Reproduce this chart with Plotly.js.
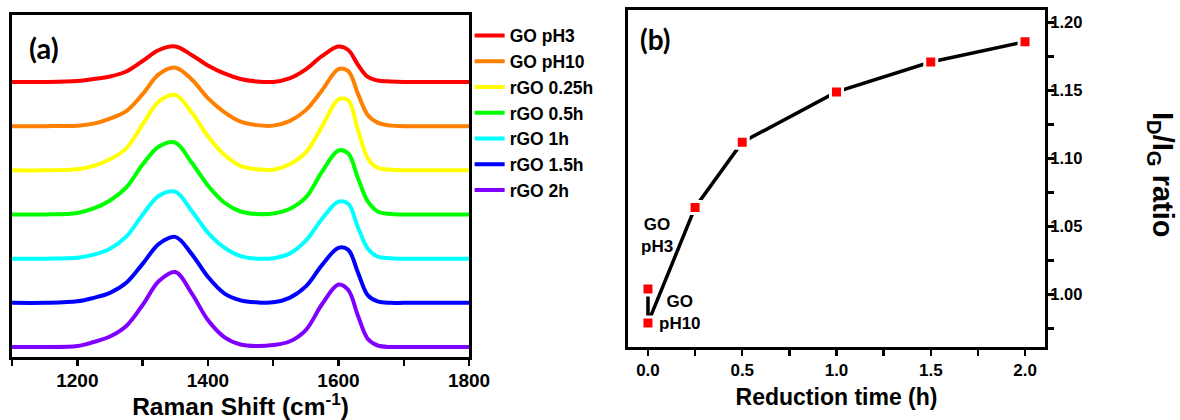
<!DOCTYPE html>
<html>
<head>
<meta charset="utf-8">
<script src="https://cdn.plot.ly/plotly-3.0.1.min.js"></script>
<style>
  html, body { margin: 0; padding: 0; background: #fff; }
  #chart { width: 1180px; height: 420px; }
</style>
</head>
<body>
<div id="chart"></div>
<script>
// Raman spectra (a.u.), baseline-corrected, sampled along the Raman shift axis
const ramanShift = [1100, 1150, 1200, 1225, 1250, 1275, 1300, 1325, 1350, 1375, 1400, 1425, 1450, 1475,
                    1500, 1525, 1550, 1575, 1600, 1615, 1630, 1645, 1660, 1680, 1700, 1750, 1800];

const goPH3   = [0, 0, 1.0, 3.0, 5.5, 10.5, 21, 32, 35.5, 27, 16.5, 8.5, 3.0, 0.5,
                 0, 3.5, 12.5, 26, 35.5, 32, 17, 5.0, 1.5, 0.5, 0, 0, 0];
const goPH10  = [0, 0, 0.5, 2.5, 7.5, 15, 32, 52, 58.5, 47, 28, 14, 4.5, 1.0,
                 0.5, 5.0, 16, 36, 57, 55, 32, 11, 3.5, 0.5, 0, 0, 0];
const rgo025  = [0, 0, 1.0, 4.5, 11, 22, 46, 69, 75.5, 58, 34, 15.5, 4.5, 1.0,
                 0.5, 6.0, 18, 44, 71, 70, 40, 12, 2.5, 0.5, 0, 0, 0];
const rgo05   = [0, 0, 1.5, 6.0, 14, 27, 50, 68, 72, 52, 29, 12, 3.0, 0.5,
                 1.0, 5.5, 17, 43, 64, 61, 36, 13, 3.0, 0.5, 0, 0, 0];
const rgo1    = [0, 0, 1.0, 4.0, 10, 22, 44, 63, 67, 48, 26, 11, 2.5, 0,
                 0.5, 5.0, 18, 40, 57, 55, 31, 10, 2.0, 0.5, 0, 0, 0];
const rgo15   = [0, 0, 1.5, 5.0, 10, 20, 39, 59, 66, 49, 26, 9.5, 2.5, 0.5,
                 0.5, 5.0, 16.5, 38, 55, 53, 30, 7.5, 1.5, 0, 0, 0, 0];
const rgo2    = [0, 0, 1.0, 5.0, 10.5, 21, 42, 66, 75, 54, 27, 10, 2.5, 1.0,
                 2.0, 5.5, 17, 43, 62.5, 57, 31, 8.0, 1.5, 0, 0, 0, 0];

const sampleNames = ['GO pH3', 'GO pH10', 'rGO 0.25h', 'rGO 0.5h', 'rGO 1h', 'rGO 1.5h', 'rGO 2h'];
const spectra = [goPH3, goPH10, rgo025, rgo05, rgo1, rgo15, rgo2];
// vertical stacking order of the spectra (multiples of the stacking step)
const stackIndex = [6, 5, 4, 3, 2, 1, 0];
const stackStep = 44.2;
const lineColors = ['#ff0000', '#ff8000', '#ffff00', '#00ff00', '#00ffff', '#0000ff', '#8000ff'];

// I_D/I_G ratio versus reduction time
const reductionTime = [0, 0, 0.25, 0.5, 1.0, 1.5, 2.0];
const idigRatio = [1.004, 0.979, 1.064, 1.112, 1.149, 1.171, 1.186];
const pointLabels = ['GO<br>pH3', 'GO<br>pH10'];

const FONT = 'Liberation Sans, Arial, sans-serif';
const bold = (size) => ({ family: FONT, size: size, color: '#000', weight: 'bold' });

const traces = spectra.map((s, i) => ({
  type: 'scatter',
  mode: 'lines',
  name: sampleNames[i],
  x: ramanShift,
  y: s.map(v => v + stackIndex[i] * stackStep),
  line: { color: lineColors[i], width: 4, shape: 'spline', smoothing: 1.0 },
  xaxis: 'x', yaxis: 'y',
  hoverinfo: 'skip'
}));

traces.push({
  type: 'scatter',
  mode: 'lines+markers',
  x: reductionTime,
  y: idigRatio,
  xaxis: 'x2', yaxis: 'y2',
  showlegend: false,
  line: { color: '#000', width: 3.5 },
  marker: { symbol: 'square', size: 12, color: '#ff0000', line: { color: '#fff', width: 3 } },
  hoverinfo: 'skip'
});

const frame = {
  showline: true, linewidth: 3, linecolor: '#000', mirror: true,
  showgrid: false, zeroline: false
};
const tickMarks = { ticks: 'outside', ticklen: 6, tickwidth: 2.5, tickcolor: '#000' };

const layout = {
  width: 1180, height: 420,
  margin: { l: 0, r: 0, t: 0, b: 0 },
  paper_bgcolor: '#fff', plot_bgcolor: '#fff',
  font: { family: FONT, color: '#000', weight: 'bold' },
  showlegend: true,
  legend: {
    x: 0.398, xanchor: 'left', y: 0.958, yanchor: 'top',
    bgcolor: 'rgba(0,0,0,0)', borderwidth: 0, tracegroupgap: 0,
    font: bold(17.5)
  },
  xaxis: Object.assign({}, frame, tickMarks, {
    domain: [0.0102, 0.3975], anchor: 'y',
    range: [1100, 1800], tick0: 0, dtick: 200,
    tickfont: bold(19), ticklabelstandoff: -2,
    minor: Object.assign({ dtick: 100 }, tickMarks),
    title: { text: 'Raman Shift (cm<sup>-1</sup>)', standoff: 6, font: bold(24.5) }
  }),
  yaxis: Object.assign({}, frame, {
    domain: [0.15, 0.9643], anchor: 'x',
    range: [-10, 332.2], showticklabels: false, ticks: ''
  }),
  xaxis2: Object.assign({}, frame, tickMarks, {
    domain: [0.5322, 0.8856], anchor: 'y2',
    range: [-0.106, 2.106], tick0: 0, dtick: 0.5, tickformat: '.1f',
    tickfont: bold(17),
    minor: Object.assign({ dtick: 0.25 }, tickMarks),
    title: { text: 'Reduction time (h)', standoff: 10, font: bold(23) }
  }),
  yaxis2: Object.assign({}, frame, tickMarks, {
    domain: [0.1738, 0.9762], anchor: 'x2', side: 'right',
    range: [0.9613, 1.2093], tick0: 0, dtick: 0.05, tickformat: '.2f',
    tickfont: bold(16.5), ticklabelstandoff: -7,
    minor: Object.assign({ dtick: 0.025 }, tickMarks)
  }),
  annotations: [
    { xref: 'paper', yref: 'paper', x: 0.0377, y: 0.888, xanchor: 'center', yanchor: 'middle',
      text: '(a)', showarrow: false, font: { family: 'Lato, ' + FONT, size: 29, color: '#000', weight: 'bold' } },
    { xref: 'paper', yref: 'paper', x: 0.5555, y: 0.907, xanchor: 'center', yanchor: 'middle',
      text: '(b)', showarrow: false, font: { family: 'Lato, ' + FONT, size: 28, color: '#000', weight: 'bold' } },
    { xref: 'x2', yref: 'y2', x: reductionTime[0] + 0.048, y: 1.043, xanchor: 'center', yanchor: 'middle',
      text: pointLabels[0], showarrow: false, align: 'center', font: bold(17) },
    { xref: 'x2', yref: 'y2', x: reductionTime[1] + 0.17, y: 0.987, xanchor: 'center', yanchor: 'middle',
      text: pointLabels[1], showarrow: false, align: 'center', font: bold(17) },
    { xref: 'paper', yref: 'paper', x: 0.984, y: 0.583, xanchor: 'center', yanchor: 'middle',
      text: 'I<sub>D</sub>/I<sub>G</sub> ratio', textangle: 90, showarrow: false, font: bold(29) }
  ]
};

Plotly.newPlot('chart', traces, layout, { staticPlot: true, displayModeBar: false });
</script>
</body>
</html>
